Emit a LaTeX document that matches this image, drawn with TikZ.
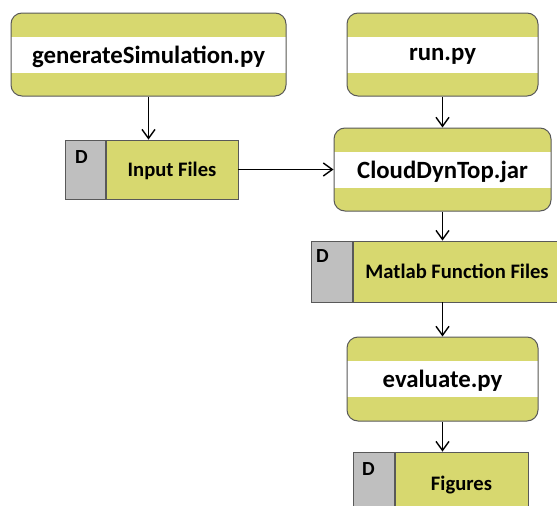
\documentclass[tikz,border=0pt]{standalone}
\usepackage{fontspec}
\setmainfont{Carlito}
\usetikzlibrary{arrows.meta,positioning}
\definecolor{flowYellow}{HTML}{D7D86F}
\definecolor{flowGray}{HTML}{BFBFBF}
\definecolor{flowEdge}{HTML}{595959}

\begin{document}
\begin{tikzpicture}[x=1pt,y=-1pt,
    procbox/.style={draw=flowEdge,line width=1pt,fill=flowYellow,rounded corners=11pt,
      text depth=0pt,font=\fontsize{24.8}{28}\selectfont\bfseries,
      path picture={\fill[white,sharp corners] ([yshift=18pt]path picture bounding box.west)
        rectangle ([yshift=-18pt]path picture bounding box.east);}},
    databox/.style={draw=flowEdge,line width=0.8pt,fill=flowYellow,
      text depth=0pt,font=\fontsize{20.6}{24}\selectfont\bfseries},
    tagbox/.style={draw=flowEdge,line width=0.8pt,fill=flowGray,minimum width=40pt,anchor=east},
    taglabel/.style={anchor=north west,inner sep=0pt,font=\fontsize{20}{23}\selectfont\bfseries},
    flow/.style={line width=1.4pt,-{Straight Barb[length=9pt,width=13pt]}}]
    \clip (0,0) rectangle (557,506);
    % process steps
    \node[procbox,minimum width=275pt,minimum height=83pt] (gen) at (148.5,54.5) {generateSimulation.py};
    \node[procbox,minimum width=191pt,minimum height=83pt] (run) at (442.5,54.5) {run.py};
    \node[procbox,minimum width=217pt,minimum height=83pt] (cdt) at (442.5,169.5) {CloudDynTop.jar};
    \node[procbox,minimum width=191pt,minimum height=84pt] (eval) at (442.5,379) {evaluate.py};
    % data stores
    \node[databox,minimum width=132pt,minimum height=59pt] (infiles) at (172,169.5) {Input Files};
    \node[tagbox,minimum height=59pt] (infilesD) at (infiles.west) {};
    \node[taglabel] (infilesTag) at ([xshift=10pt,yshift=-11pt]infilesD.north west) {D};
    \node[databox,minimum width=208pt,minimum height=61pt] (matlab) at (457,271.5) {Matlab Function Files};
    \node[tagbox,minimum width=41pt,minimum height=61pt] (matlabD) at (matlab.west) {};
    \node[taglabel] (matlabTag) at ([xshift=5pt,yshift=-9pt]matlabD.north west) {D};
    \node[databox,minimum width=133pt,minimum height=62pt] (figs) at (461.5,483) {Figures};
    \node[tagbox,minimum width=41pt,minimum height=62pt] (figsD) at (figs.west) {};
    \node[taglabel] (figsTag) at ([xshift=9pt,yshift=-11pt]figsD.north west) {D};
    % connectors
    \draw[flow] (gen.south) -- (gen.south |- infiles.north);
    \draw[flow] (run.south) -- (cdt.north);
    \draw[flow] (infiles.east) -- (cdt.west);
    \draw[flow] (cdt.south) -- (cdt.south |- matlab.north);
    \draw[flow] (eval.north |- matlab.south) -- (eval.north);
    \draw[flow] (eval.south) -- (eval.south |- figs.north);
\end{tikzpicture}
\end{document}
